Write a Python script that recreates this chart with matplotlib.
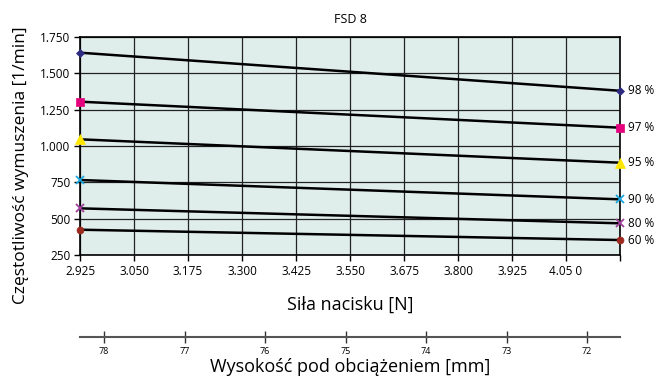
import matplotlib
matplotlib.use("Agg")
import matplotlib.pyplot as plt
import numpy as np

plt.rcParams['font.family'] = ['Open Sans', 'DejaVu Sans']

# Data
force = [2.925, 4.175]  # Siła nacisku [N]
series_labels = ["98 %", "97 %", "95 %", "90 %", "80 %", "60 %"]
freq_98 = [1642, 1380]
freq_97 = [1305, 1126]
freq_95 = [1046, 885]
freq_90 = [766, 633]
freq_80 = [571, 468]
freq_60 = [424, 353]
x_ticks = [2.925, 3.050, 3.175, 3.300, 3.425, 3.550, 3.675, 3.800, 3.925, 4.050, 4.175]
x_tick_labels = ["2.925", "3.050", "3.175", "3.300", "3.425", "3.550", "3.675",
                 "3.800", "3.925", "4.05 0", ""]
y_ticks = [250, 500, 750, 1000, 1250, 1500, 1750]
y_tick_labels = ["250", "500", "750", "1.000", "1.250", "1.500", "1.750"]
mm_ticks = [78, 77, 76, 75, 74, 73, 72]
mm_range = [78.30, 71.59]

series = [freq_98, freq_97, freq_95, freq_90, freq_80, freq_60]
markers = ['D', 's', '^', 'x', 'x', 'o']
colors = ['#2e2a80', '#e5007d', '#ffe600', '#1aa6e0', '#a0409a', '#9c2a1e']
msizes = [4, 6, 7, 6, 6, 5]

W, H = 654, 378
fig = plt.figure(figsize=(W / 100, H / 100), dpi=100)
L, R, T, B = 80, 620, 37, 255
ax = fig.add_axes([L / W, 1 - B / H, (R - L) / W, (B - T) / H])
ax.set_facecolor('#dfeeeb')
ax.set_xlim(force[0], force[1])
ax.set_ylim(250, 1750)

ax.set_xticks(x_ticks)
ax.set_xticklabels(x_tick_labels, fontsize=8.5)
ax.set_yticks(y_ticks)
ax.set_yticklabels(y_tick_labels, fontsize=8.5)
ax.tick_params(axis='both', direction='out', length=4, width=1, color='black', pad=3)
ax.grid(True, color='#222222', linewidth=0.9)
ax.set_axisbelow(True)
for s in ax.spines.values():
    s.set_color('black')
    s.set_linewidth(1.2)

for vals, m, c, ms, lab in zip(series, markers, colors, msizes, series_labels):
    ax.plot(force, vals, color='black', linewidth=1.8, zorder=3)
    ax.plot(force, vals, linestyle='none', marker=m, color=c, markersize=ms,
            markeredgewidth=1.3 if m == 'x' else 0.5, clip_on=False, zorder=4)
    ax.annotate(lab, xy=(force[1], vals[1]), xytext=(6, 0), textcoords='offset points',
                va='center', ha='left', fontsize=8.5, annotation_clip=False)

ax.set_title("FSD 8", fontsize=9, pad=10)
ax.set_xlabel("Siła nacisku [N]", fontsize=13, labelpad=13)
ax.set_ylabel("Częstotliwość wymuszenia [1/min]", fontsize=12.5)
ax.yaxis.set_label_coords(-0.095, 0.41)

# secondary axis (height under load)
ax2 = fig.add_axes([L / W, 1 - 337 / H, (R - L) / W, 0.001])
ax2.set_xlim(mm_range[0], mm_range[1])
ax2.set_ylim(0, 1)
ax2.patch.set_visible(False)
for k in ['top', 'left', 'right']:
    ax2.spines[k].set_visible(False)
ax2.spines['bottom'].set_color('#555555')
ax2.spines['bottom'].set_linewidth(1.5)
ax2.set_yticks([])
ax2.set_xticks(mm_ticks)
ax2.set_xticklabels([str(t) for t in mm_ticks], fontsize=6.5)
ax2.tick_params(axis='x', direction='inout', length=8, width=1, color='#333333', pad=3)
ax2.set_xlabel("Wysokość pod obciążeniem [mm]", fontsize=13, labelpad=2)

fig.savefig("out.png", dpi=100)
